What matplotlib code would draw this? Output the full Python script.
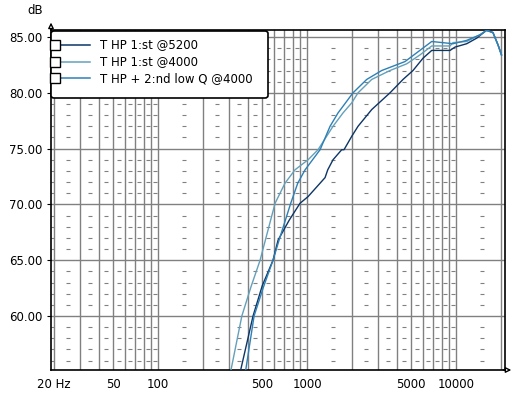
#!/usr/bin/python3
# -*- coding: utf-8 -*-

'''
Tweeter high-pass response comparison
'''

import numpy as np
import matplotlib
matplotlib.use('Agg')
import matplotlib.pyplot as plt
from matplotlib.lines import Line2D
from matplotlib.patches import FancyBboxPatch

W, H = 525, 397

labels = ['T HP 1:st @5200', 'T HP 1:st @4000', 'T HP + 2:nd low Q @4000']
colors = ['#0d3566', '#64a0bb', '#2d80b6']

# T HP 1:st @5200
f1 = [350, 359, 434, 500, 591, 639, 760, 897, 1016, 1223, 1321, 1377, 1494,
      1709, 1771, 1995, 2199, 2718, 3606, 4409, 5145, 6003, 6873, 9120, 9846,
      11800, 13770, 16030, 17710, 19140, 20200]
db1 = [54.5, 55.2, 60.0, 62.7, 65.0, 66.8, 68.6, 70.1, 70.7, 71.9, 72.4, 73.1,
       74.0, 74.9, 74.9, 76.1, 77.0, 78.5, 80.0, 81.2, 82.0, 83.1, 83.8, 83.8,
       84.1, 84.4, 84.9, 85.6, 85.4, 84.3, 83.4]

# T HP 1:st @4000
f2 = [300, 309, 365, 420, 484, 504, 610, 711, 830, 1016, 1185, 1494, 1744,
      1995, 2199, 2718, 3606, 4668, 5731, 6873, 9120, 9550, 11800, 14490,
      16030, 17710, 19140, 20200]
db2 = [54.5, 55.2, 60.0, 62.6, 65.0, 65.9, 70.1, 71.9, 73.1, 74.0, 74.9, 77.0,
       78.2, 79.1, 80.0, 81.2, 82.0, 82.6, 83.4, 84.2, 84.2, 84.5, 84.6, 85.2,
       85.6, 85.4, 84.3, 83.4]

# T HP + 2:nd low Q @4000
f3 = [380, 388, 441, 510, 591, 649, 777, 866, 970, 1223, 1427, 1615, 2035,
      2516, 3172, 4546, 6873, 9550, 11800, 14490, 16030, 17710, 19140, 20200]
db3 = [54.5, 55.2, 60.0, 62.6, 65.0, 66.8, 70.1, 71.9, 73.1, 74.9, 77.0, 78.2,
       80.0, 81.2, 82.0, 82.8, 84.6, 84.4, 84.7, 85.2, 85.6, 85.4, 84.3, 83.4]

grid_freqs = [20, 30, 40, 50, 60, 70, 80, 90,
              100, 200, 300, 400, 500, 600, 700, 800, 900,
              1000, 2000, 3000, 4000, 5000, 6000, 7000, 8000, 9000,
              10000, 20000]
xtick_vals = [20, 50, 100, 500, 1000, 5000, 10000]
xtick_labels = ['20 Hz', '50', '100', '500', '1000', '5000', '10000']
ytick_vals = [60, 65, 70, 75, 80, 85]


def px(x, y):
    '''
    Pixel position to figure fraction
    '''
    return x / W, 1 - y / H


def main():
    '''
    Main function
    '''
    plt.rcParams['font.family'] = ['DejaVu Sans']
    fig = plt.figure(figsize=(W / 100, H / 100), dpi=100)
    fig.patch.set_facecolor('white')
    ax = fig.add_axes([51 / W, 1 - 370 / H, (505 - 51) / W, (370 - 30) / H])
    ax.set_xscale('log')
    ax.set_xlim(19.1, 21330)
    ax.set_ylim(55.16, 85.63)

    # grid
    for f in grid_freqs:
        ax.axvline(f, color='#808080', lw=1.0, zorder=1)
    for v in ytick_vals:
        ax.axhline(v, color='#808080', lw=1.0, zorder=1)
    # small dashes between grid lines
    mids = [(a + b) / 2 for a, b in zip(grid_freqs[:-1], grid_freqs[1:])]
    levels = [v for v in range(56, 86) if v % 5]
    mx, my = np.meshgrid(mids, levels)
    ax.plot(mx.ravel(), my.ravel(), ls='none', marker='_', ms=2.5, mew=0.8,
            color='#808080', zorder=1, antialiased=False)

    for f, d, c in zip([f1, f2, f3], [db1, db2, db3], colors):
        ax.plot(f, d, color=c, lw=1.0, zorder=3)

    ax.minorticks_off()
    ax.set_xticks(xtick_vals)
    ax.set_xticklabels(xtick_labels)
    ax.set_yticks(ytick_vals)
    ax.set_yticklabels(['%.2f' % v for v in ytick_vals])
    ax.set_yticks([v for v in range(56, 86) if v % 5], minor=True)
    ax.tick_params(axis='x', length=0, pad=6, labelsize=8.5)
    ax.tick_params(axis='y', which='major', length=3, pad=3, labelsize=8.5,
                   color='black')
    ax.tick_params(axis='y', which='minor', length=2.5, direction='in',
                   color='#808080', width=0.8)
    for s in ax.spines.values():
        s.set_color('black')
        s.set_linewidth(1.2)

    # axis arrows
    ax.annotate('', xy=(1.02, 0), xytext=(0.99, 0), xycoords='axes fraction',
                arrowprops=dict(arrowstyle='-|>', color='black', lw=1,
                                fc='white', mutation_scale=8),
                annotation_clip=False)
    ax.annotate('', xy=(0, 1.03), xytext=(0, 0.99), xycoords='axes fraction',
                arrowprops=dict(arrowstyle='-|>', color='black', lw=1,
                                fc='white', mutation_scale=8),
                annotation_clip=False)
    fig.text(*px(35, 11), 'dB', ha='center', va='center', fontsize=8.5)

    # legend box
    x0, y0 = px(51, 98)
    x1, y1 = px(268, 31)
    fig.patches.append(FancyBboxPatch(
        (x0, y0), x1 - x0, y1 - y0, boxstyle='round,pad=0,rounding_size=0.006',
        transform=fig.transFigure, fc='white', ec='black', lw=1.2, zorder=5))
    for row, (lab, c) in enumerate(zip(labels, colors)):
        yy = 45 + row * 16.7
        fig.add_artist(Line2D([61 / W, 90 / W], [1 - yy / H] * 2, color=c,
                              lw=1.1, zorder=6))
        fig.add_artist(Line2D([55 / W], [1 - yy / H], marker='s', ms=6.5,
                              mfc='white', mec='black', mew=1, zorder=7))
        fig.text(100 / W, 1 - yy / H, lab, ha='left', va='center',
                 fontsize=8.5, zorder=7)

    fig.savefig('out.png', dpi=100)


if __name__ == '__main__':
    main()
